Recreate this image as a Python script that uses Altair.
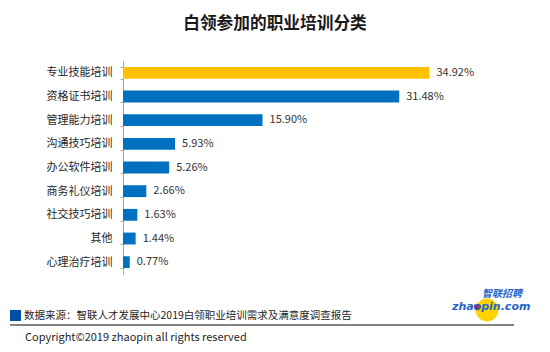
import altair as alt
import pandas as pd

categories = ["专业技能培训", "资格证书培训", "管理能力培训", "沟通技巧培训", "办公软件培训",
              "商务礼仪培训", "社交技巧培训", "其他", "心理治疗培训"]
values = [34.92, 31.48, 15.90, 5.93, 5.26, 2.66, 1.63, 1.44, 0.77]
highlight = [True, False, False, False, False, False, False, False, False]

title_text = "白领参加的职业培训分类"
source_text = "数据来源：智联人才发展中心2019白领职业培训需求及满意度调查报告"
copyright_text = "Copyright©2019 zhaopin all rights reserved"

df = pd.DataFrame({
    "cat": categories,
    "val": values,
    "hl": ["y" if h else "n" for h in highlight],
    "label": [f"{v:.2f}%" for v in values],
})

FONT = "Noto Sans CJK SC"
OX, OY = 123, 61  # plot origin within page
W, H = 351, 213

y_enc = alt.Y("cat:N", sort=categories, title=None,
              scale=alt.Scale(paddingInner=0.5, paddingOuter=0.25),
              axis=alt.Axis(labelFont=FONT, labelFontSize=11, labelColor="#262626",
                            labelPadding=8, tickBand="extent", tickSize=3,
                            tickColor="#a6a6a6", domainColor="#a6a6a6", grid=False))
x_enc = alt.X("val:Q", scale=alt.Scale(domain=[0, 40]), axis=None)

bars = alt.Chart(df).mark_bar().encode(
    y=y_enc, x=x_enc,
    color=alt.Color("hl:N", scale=alt.Scale(domain=["y", "n"], range=["#FFC000", "#0070C0"]),
                    legend=None),
)
labels = alt.Chart(df).mark_text(align="left", baseline="middle", dx=7, font=FONT,
                                 fontSize=11, color="#333333").encode(
    y=alt.Y("cat:N", sort=categories), x="val:Q", text="label:N")

def px(x):
    return x - OX

def py(y):
    return y - OY

anno = pd.DataFrame({"a": [0]})
title = alt.Chart(anno).mark_text(font=FONT, fontSize=16.7, fontWeight="bold", color="#1a1a1a",
                                  align="center", baseline="middle").encode(
    x=alt.value(px(275)), y=alt.value(py(24)), text=alt.value(title_text))
square = alt.Chart(anno).mark_rect(color="#0050A8").encode(
    x=alt.value(px(10)), x2=alt.value(px(21)), y=alt.value(py(310)), y2=alt.value(py(321)))
source = alt.Chart(anno).mark_text(font=FONT, fontSize=10.5, color="#262626",
                                   align="left", baseline="middle").encode(
    x=alt.value(px(24)), y=alt.value(py(316)), text=alt.value(source_text))
line = alt.Chart(anno).mark_rule(color="#595959", strokeWidth=1.5).encode(
    x=alt.value(px(10)), x2=alt.value(px(514)), y=alt.value(py(325)))
copyright = alt.Chart(anno).mark_text(font=FONT, fontSize=11, color="#262626",
                                      align="left", baseline="middle").encode(
    x=alt.value(px(25)), y=alt.value(py(338)), text=alt.value(copyright_text))
circle = alt.Chart(anno).mark_point(filled=True, color="#FFD200", opacity=1, size=520).encode(
    x=alt.value(px(487)), y=alt.value(py(310)))
red_dot = alt.Chart(anno).mark_point(filled=True, color="#D7191C", opacity=1, size=40).encode(
    x=alt.value(px(477)), y=alt.value(py(307)))
logo_cn = alt.Chart(anno).mark_text(font=FONT, fontSize=10, fontStyle="italic", fontWeight="bold",
                                    color="#1E64C8", align="left", baseline="middle").encode(
    x=alt.value(px(482)), y=alt.value(py(294)), text=alt.value("智联招聘"))
logo_en = alt.Chart(anno).mark_text(font="DejaVu Sans", fontSize=11, fontStyle="italic",
                                    fontWeight="bold", color="#1E64C8", align="left",
                                    baseline="middle").encode(
    x=alt.value(px(452)), y=alt.value(py(307)), text=alt.value("zhaopin.com"))

chart = alt.layer(bars, labels, title, square, source, line, copyright, circle, red_dot,
                  logo_cn, logo_en).properties(
    width=W, height=H,
    autosize=alt.AutoSizeParams(type="none"),
    padding={"left": OX, "top": OY, "right": 550 - OX - W, "bottom": 352 - OY - H},
    background="white",
).configure_view(stroke=None)

chart.save("out.html", embed_options={"renderer": "svg", "actions": False})
